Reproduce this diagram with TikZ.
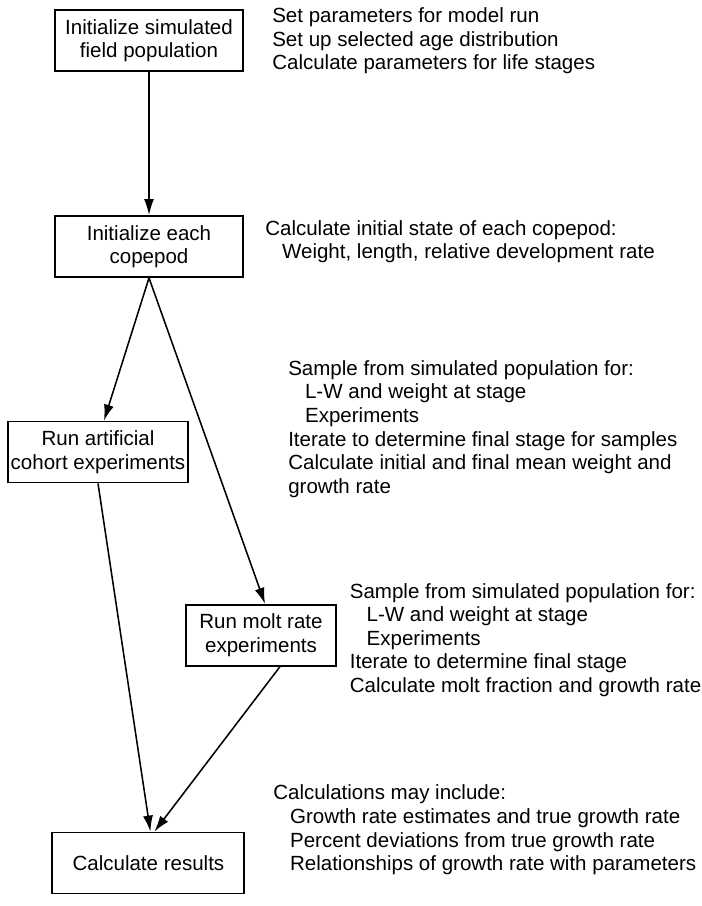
\documentclass[tikz,border=0pt]{standalone}
\usepackage{fontspec}
\setmainfont{Liberation Sans}
\usetikzlibrary{arrows.meta}

\tikzset{
  stagebox/.style={draw, line width=1.3pt, align=center, minimum height=1.525cm, inner sep=2pt},
  sidenote/.style={anchor=west, align=left, inner sep=0pt},
  flow/.style={->, line width=1.1pt},
}
\newcommand{\ind}{\hspace*{0.42cm}}

\begin{document}
\begin{tikzpicture}[font=\fontsize{14.6}{16.8}\selectfont, >={Latex[length=4mm,width=2.5mm]}]
  \useasboundingbox (0,0) rectangle (17.55,-22.65);

  % model stages
  \node[stagebox, minimum width=4.7cm] (field) at (3.725,-1.0125) {Initialize simulated\\field population};
  \node[stagebox, minimum width=4.7cm] (copepod) at (3.725,-6.1625) {Initialize each\\copepod};
  \node[stagebox, minimum width=4.5cm] (cohort) at (2.45,-11.3) {Run artificial\\cohort experiments};
  \node[stagebox, minimum width=3.75cm] (molt) at (6.525,-15.88) {Run molt rate\\experiments};
  \node[stagebox, minimum width=4.8cm] (results) at (3.71,-21.575) {Calculate results};

  % what each stage does
  \node[sidenote] (fieldnote) at (6.8,-1.025) {Set parameters for model run\\Set up selected age distribution\\Calculate parameters for life stages};
  \node[sidenote] (copepodnote) at (6.625,-6.04) {Calculate initial state of each copepod:\\\ind Weight, length, relative development rate};
  \node[sidenote] (cohortnote) at (7.2,-10.725) {Sample from simulated population for:\\\ind L-W and weight at stage\\\ind Experiments\\Iterate to determine final stage for samples\\Calculate initial and final mean weight and\\growth rate};
  \node[sidenote] (moltnote) at (8.74,-16.0) {Sample from simulated population for:\\\ind L-W and weight at stage\\\ind Experiments\\Iterate to determine final stage\\Calculate molt fraction and growth rate};
  \node[sidenote] (resultnote) at (6.825,-20.75) {Calculations may include:\\\ind Growth rate estimates and true growth rate\\\ind Percent deviations from true growth rate\\\ind Relationships of growth rate with parameters};

  \draw [flow] (field) -- (copepod);
  \draw [flow] (copepod.south) -- ([xshift=0.15cm]cohort.north);
  \draw [flow] (copepod.south) -- ([xshift=0.1cm]molt.north);
  \draw [flow] (cohort.south) -- ([xshift=0.05cm]results.north);
  \draw [flow] ([xshift=0.475cm]molt.south) -- ([xshift=0.15cm]results.north);

\end{tikzpicture}
\end{document}
